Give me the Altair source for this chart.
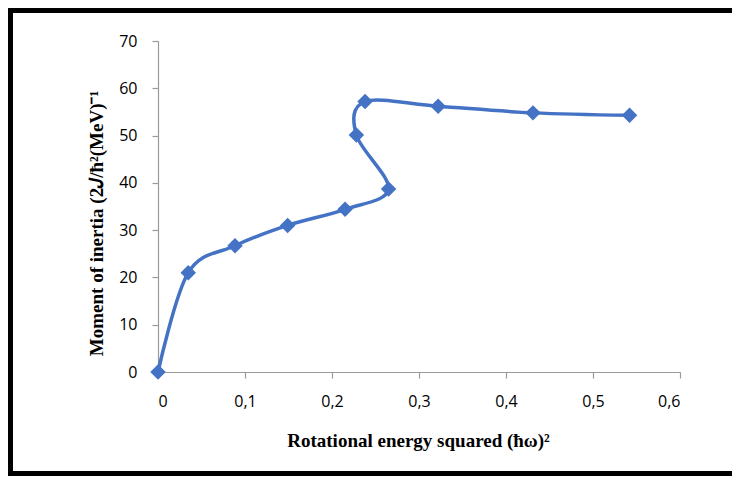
import altair as alt
import pandas as pd

# Data
x_vals = [0.0, 0.0348, 0.0885, 0.149, 0.215, 0.265, 0.228, 0.238, 0.322, 0.431, 0.542]
y_vals = [0.0, 21.0, 26.7, 31.0, 34.4, 38.7, 50.1, 57.2, 56.2, 54.8, 54.3]
order = list(range(len(x_vals)))

x_ticks = [0, 0.1, 0.2, 0.3, 0.4, 0.5, 0.6]
y_ticks = [0, 10, 20, 30, 40, 50, 60, 70]

x_title = "Rotational energy squared (ħω)²"
y_title = "Moment of inertia (2𝐽/ħ²(MeV)⁻¹"

df = pd.DataFrame({"x": x_vals, "y": y_vals, "i": order})

BLUE = "#4472C4"
AXIS_GRAY = "#9a9a9a"
LABEL_FONT = "Open Sans"
TITLE_FONT = "Liberation Serif"

x_enc = alt.X(
    "x:Q",
    scale=alt.Scale(domain=[0, 0.6], nice=False, zero=False),
    axis=alt.Axis(
        values=x_ticks,
        labelExpr="replace(format(datum.value, '.1~f'), '.', ',')",
        title=x_title,
        titleX=260,
        titleY=74,
        titleAlign="center",
        titleBaseline="alphabetic",
        grid=False,
    ),
)
y_enc = alt.Y(
    "y:Q",
    scale=alt.Scale(domain=[0, 70], nice=False),
    axis=alt.Axis(
        values=y_ticks,
        title=y_title,
        titleX=-56,
        titleY=182,
        titleAngle=270,
        titleAlign="center",
        titleBaseline="alphabetic",
        grid=False,
    ),
)

line = alt.Chart(df).mark_line(
    color=BLUE, strokeWidth=3.5, interpolate="cardinal", tension=0
).encode(x=x_enc, y=y_enc, order=alt.Order("i:Q"))

points = alt.Chart(df).mark_point(
    shape="diamond", filled=True, size=240, color=BLUE, opacity=1
).encode(x="x:Q", y="y:Q")

# Decorative outer frame (top, left, bottom edges; the right edge runs off the page)
one = alt.Data(values=[{"a": 1}])
frame_top = alt.Chart(one).mark_rule(color="black", strokeWidth=5, clip=False).encode(
    x=alt.value(-150), x2=alt.value(574), y=alt.value(-30.5)
)
frame_left = alt.Chart(one).mark_rule(color="black", strokeWidth=5, clip=False).encode(
    x=alt.value(-147.5), y=alt.value(-33), y2=alt.value(435)
)
frame_bottom = alt.Chart(one).mark_rule(color="black", strokeWidth=5, clip=False).encode(
    x=alt.value(-150), x2=alt.value(574), y=alt.value(432.5)
)

chart = alt.layer(frame_top, frame_left, frame_bottom, line, points).properties(
    width=522,
    height=331,
    autosize=alt.AutoSizeParams(type="none"),
    padding={"left": 150, "top": 33, "right": 52, "bottom": 104},
    background="white",
).configure_view(stroke=None).configure_axis(
    domainColor=AXIS_GRAY,
    tickColor=AXIS_GRAY,
    tickSize=6,
    domainWidth=1.2,
    tickWidth=1.2,
    labelFont=LABEL_FONT,
    labelFontSize=16,
    labelColor="#000000",
    labelPadding=15,
    titleFont=TITLE_FONT,
    titleFontSize=19,
    titleFontWeight="bold",
    titleColor="#000000",
)

chart.save("out.html", embed_options={"renderer": "svg", "actions": False})
